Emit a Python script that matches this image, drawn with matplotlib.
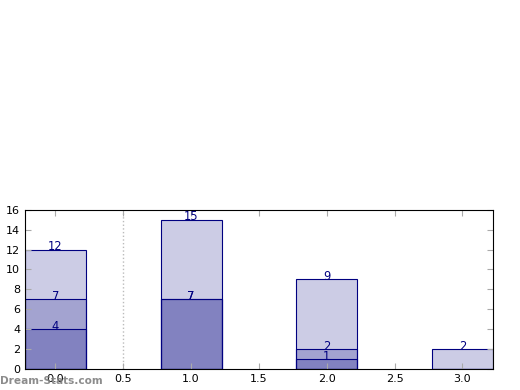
import matplotlib.pyplot as plt

positions = [0, 1, 2, 3]
series_a = [12, 15, 9, 2]
series_b = [7, 7, 2, 0]
series_c = [4, 7, 1, 0]

fig = plt.figure(figsize=(5.2, 3.9), dpi=100)
ax = fig.add_axes([0.048, 0.054, 0.9, 0.408])

for vals in (series_a, series_b, series_c):
    ax.bar(positions, vals, width=0.45, color='navy', alpha=0.2, edgecolor='none')
    ax.bar(positions, vals, width=0.45, fill=False, edgecolor='navy', linewidth=0.8)
    for x, v in zip(positions, vals):
        if v > 0:
            ax.text(x, v + 0.3, str(v), ha='center', va='center', color='navy', fontsize=8.3)

ax.axvline(0.5, color='#bbbbbb', linestyle=':', linewidth=1, zorder=0)
ax.set_xlim(-0.225, 3.225)
ax.set_ylim(0, 16)
ax.set_xticks([0.0, 0.5, 1.0, 1.5, 2.0, 2.5, 3.0])
ax.set_xticklabels(['0.0', '0.5', '1.0', '1.5', '2.0', '2.5', '3.0'])
ax.set_yticks(range(0, 17, 2))
ax.tick_params(direction='in', length=4, color='#aaaaaa', labelsize=8, top=True, right=True)
for s in ax.spines.values():
    s.set_linewidth(0.8)

fig.text(0.0, 0.015, 'Dream-Stats.com', color='gray', fontsize=7.6, fontweight='bold', alpha=0.9)

fig.savefig('out.png')
